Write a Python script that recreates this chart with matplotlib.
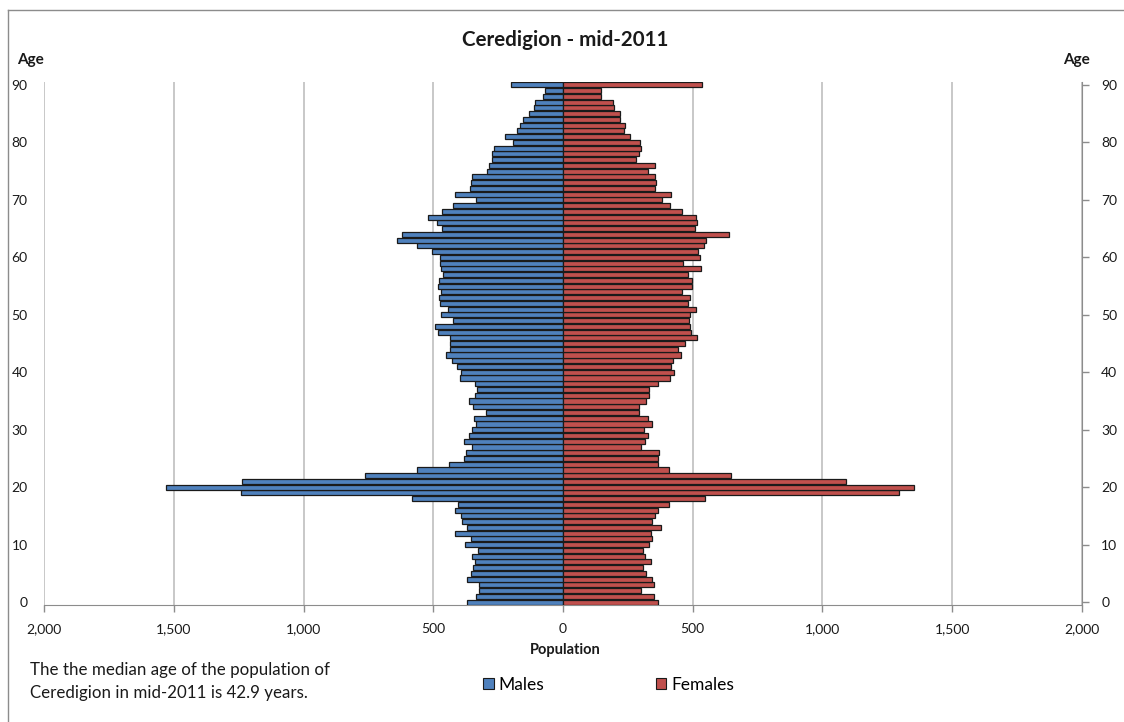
import matplotlib
matplotlib.use("Agg")
import matplotlib.pyplot as plt
from matplotlib.patches import Patch
from matplotlib.ticker import FuncFormatter

plt.rcParams["font.family"] = ["Lato", "DejaVu Sans"]

# Ceredigion mid-2011 population by single year of age (0 .. 90+)
ages = list(range(0, 91))

males = [369, 334, 323, 323, 369, 356, 347, 339, 351, 326,
         376, 356, 415, 369, 389, 394, 415, 406, 583, 1241,
         1532, 1236, 765, 562, 439, 380, 373, 351, 380, 364,
         352, 335, 343, 297, 348, 362, 338, 332, 338, 398,
         394, 409, 428, 452, 436, 436, 436, 482, 495, 424,
         469, 445, 474, 478, 470, 482, 478, 463, 469, 473,
         473, 504, 562, 639, 621, 465, 486, 519, 465, 423,
         335, 415, 360, 355, 351, 292, 284, 272, 275, 267,
         191, 224, 179, 167, 153, 132, 110, 107, 76, 68,
         199]

females = [367, 350, 300, 351, 342, 321, 308, 341, 317, 308,
           333, 342, 338, 379, 342, 354, 367, 410, 547, 1296,
           1355, 1090, 649, 409, 367, 367, 372, 300, 317, 328,
           311, 345, 327, 294, 294, 320, 333, 331, 365, 411,
           428, 417, 425, 453, 445, 471, 515, 495, 491, 487,
           491, 512, 480, 491, 459, 499, 499, 480, 531, 463,
           530, 522, 542, 550, 640, 509, 517, 513, 458, 412,
           380, 417, 353, 357, 353, 329, 353, 283, 294, 299,
           295, 257, 235, 240, 219, 219, 198, 191, 148, 148,
           537]

age_ticks = [0, 10, 20, 30, 40, 50, 60, 70, 80, 90]
pop_ticks = [-2000, -1500, -1000, -500, 0, 500, 1000, 1500, 2000]

blue = "#4F81BD"
red = "#C0504D"
grid_col = "#BFBFBF"
axis_col = "#8C8C8C"

fig = plt.figure(figsize=(11.24, 7.22), dpi=100, facecolor="white")
ax = fig.add_axes([0.0394, 0.162, 0.923, 0.7244])

ax.barh(ages, [-m for m in males], height=0.88, color=blue,
        edgecolor="#1a1a1a", linewidth=0.9, zorder=3)
ax.barh(ages, females, height=0.88, color=red,
        edgecolor="#1a1a1a", linewidth=0.9, zorder=3)

ax.set_xlim(-2000, 2000)
ax.set_ylim(-0.5, 90.5)
ax.set_xticks(pop_ticks)
ax.xaxis.set_major_formatter(FuncFormatter(lambda v, p: f"{abs(int(v)):,}"))
ax.set_yticks(age_ticks)
ax.grid(axis="x", color=grid_col, linewidth=1.2, zorder=0)
ax.set_axisbelow(True)

for s in ["top", "left", "right"]:
    ax.spines[s].set_visible(False)
ax.spines["bottom"].set_color(axis_col)
ax.tick_params(axis="x", colors=axis_col, length=5, width=1,
               labelcolor="#1a1a1a", labelsize=10, pad=8)
ax.tick_params(axis="y", length=0, labelsize=10, labelcolor="#1a1a1a", pad=12)

# secondary age axis on the right
ax2 = ax.twinx()
ax2.set_ylim(-0.5, 90.5)
ax2.set_yticks(age_ticks)
for s in ["top", "left", "bottom"]:
    ax2.spines[s].set_visible(False)
ax2.spines["right"].set_color(axis_col)
ax2.tick_params(axis="y", colors=axis_col, length=5, width=1,
                labelcolor="#1a1a1a", labelsize=10, pad=9)

fig.text(0.5027, 0.9446, "Ceredigion - mid-2011", ha="center", va="center",
         fontsize=14.8, fontweight="bold", color="#1a1a1a")
fig.text(0.0267, 0.917, "Age", ha="center", va="center",
         fontsize=11, fontweight="bold", color="#1a1a1a")
fig.text(0.958, 0.917, "Age", ha="center", va="center",
         fontsize=11, fontweight="bold", color="#1a1a1a")
fig.text(0.5027, 0.0997, "Population", ha="center", va="center",
         fontsize=10.5, fontweight="bold", color="#1a1a1a")

fig.text(0.0267, 1 - 670 / 722, "The the median age of the population of",
         ha="left", va="center", fontsize=12.2, color="#1a1a1a")
fig.text(0.0267, 1 - 693 / 722, "Ceredigion in mid-2011 is 42.9 years.",
         ha="left", va="center", fontsize=12.2, color="#1a1a1a")

handles = [Patch(facecolor=blue, edgecolor="#1a1a1a", linewidth=0.8, label="Males"),
           Patch(facecolor=red, edgecolor="#1a1a1a", linewidth=0.8, label="Females")]
fig.legend(handles=handles, loc="center left", bbox_to_anchor=(0.416, 1 - 685 / 722),
           ncol=2, frameon=False, fontsize=12.5, handlelength=0.6, handleheight=0.6,
           handletextpad=0.3, columnspacing=6.4)

# outer chart frame
fig.add_artist(plt.Line2D([8 / 1124, 8 / 1124], [0, 1 - 10 / 722],
                          transform=fig.transFigure, color=axis_col, linewidth=1))
fig.add_artist(plt.Line2D([8 / 1124, 1], [1 - 10 / 722, 1 - 10 / 722],
                          transform=fig.transFigure, color=axis_col, linewidth=1))

fig.savefig("out.png", dpi=100, facecolor="white")
plt.close(fig)
